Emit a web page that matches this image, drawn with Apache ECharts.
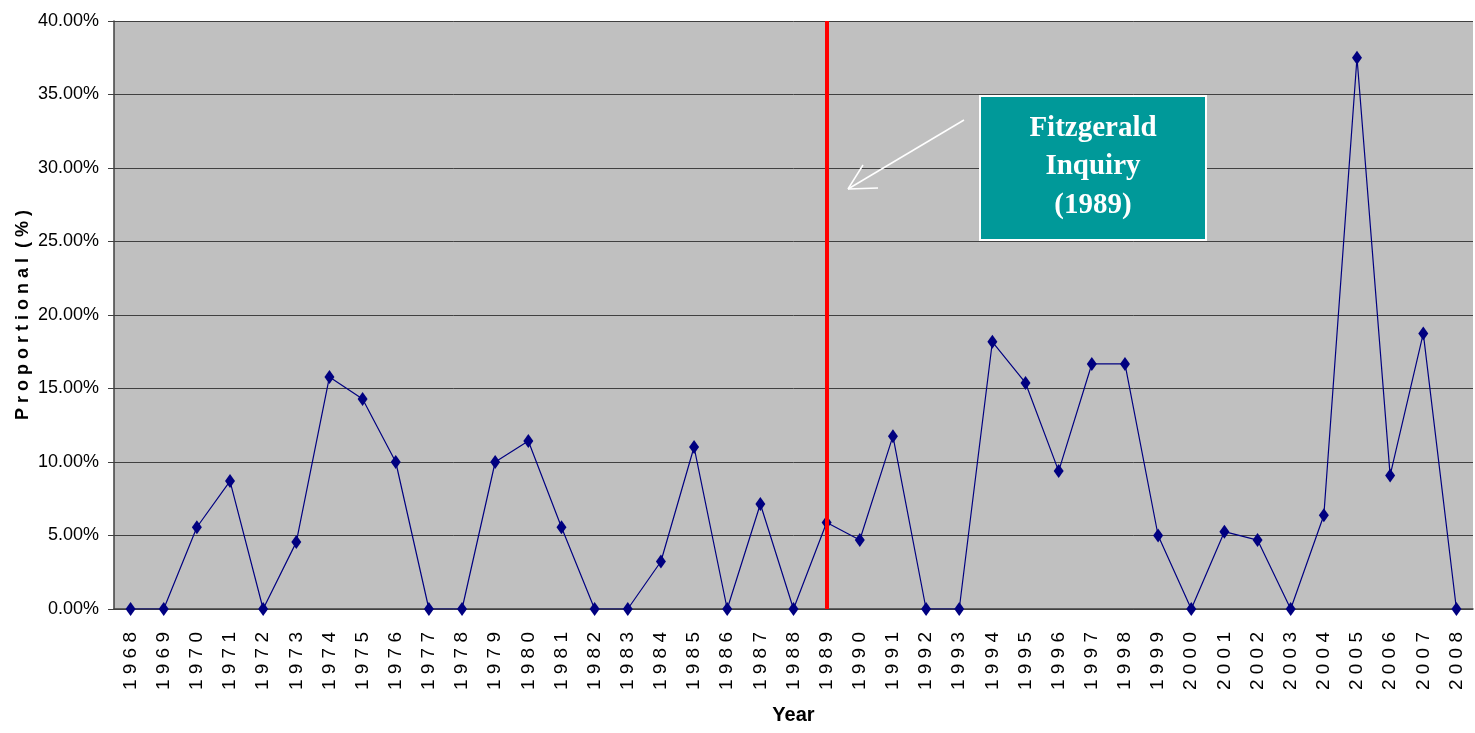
<!DOCTYPE html>
<html>
<head>
<meta charset="utf-8">
<script src="https://cdn.jsdelivr.net/npm/echarts@6/dist/echarts.min.js"></script>
<style>
  html, body { margin: 0; padding: 0; background: #fff; }
  #main { width: 1475px; height: 733px; }
</style>
</head>
<body>
<div id="main"></div>
<script>
// years on the x axis
const years = ['1968','1969','1970','1971','1972','1973','1974','1975','1976','1977',
  '1978','1979','1980','1981','1982','1983','1984','1985','1986','1987',
  '1988','1989','1990','1991','1992','1993','1994','1995','1996','1997',
  '1998','1999','2000','2001','2002','2003','2004','2005','2006','2007','2008'];

// proportion per year (%)
const proportional = [0, 0, 5.56, 8.70, 0, 4.55, 15.79, 14.29, 10.00, 0,
  0, 10.00, 11.43, 5.56, 0, 0, 3.23, 11.02, 0, 7.14,
  0, 5.88, 4.69, 11.76, 0, 0, 18.18, 15.38, 9.38, 16.67,
  16.67, 5.00, 0, 5.26, 4.69, 0, 6.38, 37.50, 9.09, 18.75, 0];

const yTicks = [0, 5, 10, 15, 20, 25, 30, 35, 40];
const eventYear = '1989';
const noteLines = ['Fitzgerald', 'Inquiry', '(1989)'];

const chart = echarts.init(document.getElementById('main'));

const sans = "'Liberation Sans', Arial, sans-serif";

const option = {
  animation: false,
  grid: { left: 114, right: 2, top: 21, bottom: 124, show: true, backgroundColor: '#c0c0c0', borderWidth: 0,
          outerBoundsMode: 'none', containLabel: false },
  xAxis: {
    type: 'category',
    data: years,
    name: 'Year',
    nameLocation: 'middle',
    nameGap: 96,
    nameMoveOverlap: false,
    nameTextStyle: { fontFamily: sans, fontWeight: 'bold', fontSize: 20, color: '#000' },
    axisLine: { lineStyle: { color: '#404040', width: 1.5 } },
    axisTick: { interval: 0, length: 8, lineStyle: { color: '#404040' } },
    axisLabel: {
      interval: 0, rotate: 90, margin: 23,
      fontFamily: sans, fontSize: 19, color: '#000',
      formatter: v => v.split('').join(' ')
    }
  },
  yAxis: {
    type: 'value',
    min: 0, max: 40, interval: 5,
    name: 'P r o p o r t i o n a l  ( % )',
    nameLocation: 'middle',
    nameGap: 82,
    nameMoveOverlap: false,
    nameTextStyle: { fontFamily: sans, fontWeight: 'bold', fontSize: 18, color: '#000' },
    axisLine: { show: true, lineStyle: { color: '#404040', width: 1.5 } },
    axisTick: { show: true, length: 6, lineStyle: { color: '#404040' } },
    axisLabel: {
      fontFamily: sans, fontSize: 18, color: '#000', margin: 15,
      formatter: v => yTicks.includes(v) ? v.toFixed(2) + '%' : ''
    },
    splitLine: { lineStyle: { color: '#404040', width: 1 } }
  },
  series: [{
    type: 'line',
    data: proportional,
    symbol: 'diamond',
    symbolSize: [10, 14],
    lineStyle: { color: '#000080', width: 1.2 },
    itemStyle: { color: '#000080' },
    markLine: {
      silent: true,
      symbol: 'none',
      label: { show: false },
      lineStyle: { color: '#ff0000', width: 4, type: 'solid' },
      data: [{ xAxis: eventYear }]
    }
  }],
  graphic: [
    { type: 'rect', shape: { x: 980, y: 96, width: 226, height: 144 },
      style: { fill: '#009999', stroke: '#ffffff', lineWidth: 2 }, z: 10 },
    { type: 'text', x: 1093, y: 167, z: 11,
      style: { text: noteLines.join('\n'), fill: '#fff', align: 'center', verticalAlign: 'middle',
               font: "bold 29px 'Liberation Serif', 'Times New Roman', serif", lineHeight: 38.5 } },
    { type: 'line', z: 10, shape: { x1: 964, y1: 120, x2: 848, y2: 189 }, style: { stroke: '#fff', lineWidth: 1.5 } },
    { type: 'line', z: 10, shape: { x1: 848, y1: 189, x2: 863, y2: 165 }, style: { stroke: '#fff', lineWidth: 1.5 } },
    { type: 'line', z: 10, shape: { x1: 848, y1: 189, x2: 878, y2: 188 }, style: { stroke: '#fff', lineWidth: 1.5 } }
  ]
};

chart.setOption(option);
</script>
</body>
</html>
